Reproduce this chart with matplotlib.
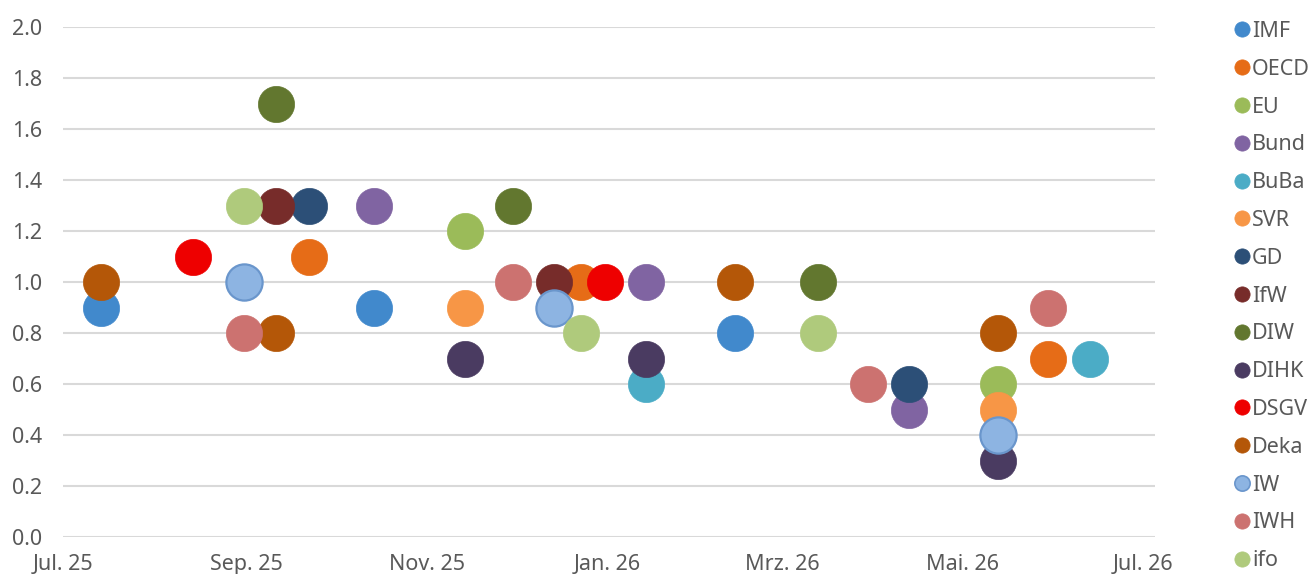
import numpy as np
import pandas as pd
import matplotlib
matplotlib.use("Agg")
import matplotlib.pyplot as plt
from matplotlib.lines import Line2D

plt.rcParams['font.family'] = ['Noto Sans', 'DejaVu Sans']

# forecasts per institute: dates and values
institutes = ["IMF", "OECD", "EU", "Bund", "BuBa", "SVR", "GD", "IfW",
              "DIW", "DIHK", "DSGV", "Deka", "IW", "IWH", "ifo"]

imf_dates = ["2025-07-14", "2025-10-14", "2026-02-13"]
imf_vals = [0.9, 0.9, 0.8]
oecd_dates = ["2025-09-22", "2025-12-23", "2026-05-30"]
oecd_vals = [1.1, 1.0, 0.7]
eu_dates = ["2025-11-14", "2026-05-13"]
eu_vals = [1.2, 0.6]
bund_dates = ["2025-10-14", "2026-01-14", "2026-04-13"]
bund_vals = [1.3, 1.0, 0.5]
buba_dates = ["2026-01-14", "2026-06-13"]
buba_vals = [0.6, 0.7]
svr_dates = ["2025-11-14", "2026-05-13"]
svr_vals = [0.9, 0.5]
gd_dates = ["2025-09-22", "2026-04-13"]
gd_vals = [1.3, 0.6]
ifw_dates = ["2025-09-11", "2025-12-14"]
ifw_vals = [1.3, 1.0]
diw_dates = ["2025-09-11", "2025-11-30", "2026-03-13"]
diw_vals = [1.7, 1.3, 1.0]
dihk_dates = ["2025-11-14", "2026-01-14", "2026-05-13"]
dihk_vals = [0.7, 0.7, 0.3]
dsgv_dates = ["2025-08-14", "2025-12-31"]
dsgv_vals = [1.1, 1.0]
deka_dates = ["2025-07-14", "2025-09-11", "2026-02-13", "2026-05-13"]
deka_vals = [1.0, 0.8, 1.0, 0.8]
iw_dates = ["2025-08-31", "2025-12-14", "2026-05-13"]
iw_vals = [1.0, 0.9, 0.4]
iwh_dates = ["2025-08-31", "2025-11-30", "2026-03-30", "2026-05-30"]
iwh_vals = [0.8, 1.0, 0.6, 0.9]
ifo_dates = ["2025-08-31", "2025-12-23", "2026-03-13"]
ifo_vals = [1.3, 0.8, 0.8]

all_dates = [imf_dates, oecd_dates, eu_dates, bund_dates, buba_dates, svr_dates,
             gd_dates, ifw_dates, diw_dates, dihk_dates, dsgv_dates, deka_dates,
             iw_dates, iwh_dates, ifo_dates]
all_vals = [imf_vals, oecd_vals, eu_vals, bund_vals, buba_vals, svr_vals,
            gd_vals, ifw_vals, diw_vals, dihk_vals, dsgv_vals, deka_vals,
            iw_vals, iwh_vals, ifo_vals]

colors = ["#4189CC", "#E66C17", "#9BBB59", "#8064A2", "#4BACC6", "#F79646",
          "#2C4F77", "#772C2A", "#62772F", "#4A3B61", "#EE0000", "#B45708",
          "#8DB4E2", "#CC7270", "#AFCA7C"]

tick_dates = ["2025-07-01", "2025-09-01", "2025-11-01", "2026-01-01",
              "2026-03-01", "2026-05-01", "2026-07-01"]
tick_labels = ["Jul. 25", "Sep. 25", "Nov. 25", "Jan. 26", "Mrz. 26", "Mai. 26", "Jul. 26"]

fig = plt.figure(figsize=(13.12, 5.74), dpi=100)
ax = fig.add_axes([63 / 1312, 1 - 537 / 574, (1155 - 63) / 1312, (537 - 27) / 574])

handles = []
for name, d, v, c in zip(institutes, all_dates, all_vals, colors):
    edge = "#6A96CC" if name == "IW" else c
    lw = 1.6 if name == "IW" else 0.5
    ax.scatter(pd.to_datetime(d), v, s=680, color=c, edgecolors=edge,
               linewidths=lw, zorder=3, clip_on=False)
    handles.append(Line2D([], [], marker="o", linestyle="", markersize=11,
                          markerfacecolor=c, markeredgecolor=edge,
                          markeredgewidth=1.2 if name == "IW" else 0.5, label=name))

ax.set_ylim(0, 2.0)
ax.set_yticks(np.arange(0, 2.01, 0.2))
ax.yaxis.set_major_formatter(matplotlib.ticker.FormatStrFormatter("%.1f"))
ax.set_xlim(pd.Timestamp("2025-07-01"), pd.Timestamp("2026-07-05"))
ax.set_xticks(pd.to_datetime(tick_dates))
ax.set_xticklabels(tick_labels)

ax.grid(axis="y", color="#D9D9D9", linewidth=1.5)
ax.set_axisbelow(True)
for s in ax.spines.values():
    s.set_visible(False)
ax.tick_params(axis="both", length=0, labelsize=15.5, labelcolor="#595959")
ax.tick_params(axis="y", pad=15)
ax.tick_params(axis="x", pad=12)

fig.legend(handles=handles, loc="upper left", bbox_to_anchor=(1236 / 1312, 1 - 21 / 574),
           frameon=False, fontsize=15.5, labelcolor="#595959", handlelength=0.6,
           handletextpad=0.15, labelspacing=0.78, borderpad=0, borderaxespad=0)

fig.savefig("out.png", dpi=100)
